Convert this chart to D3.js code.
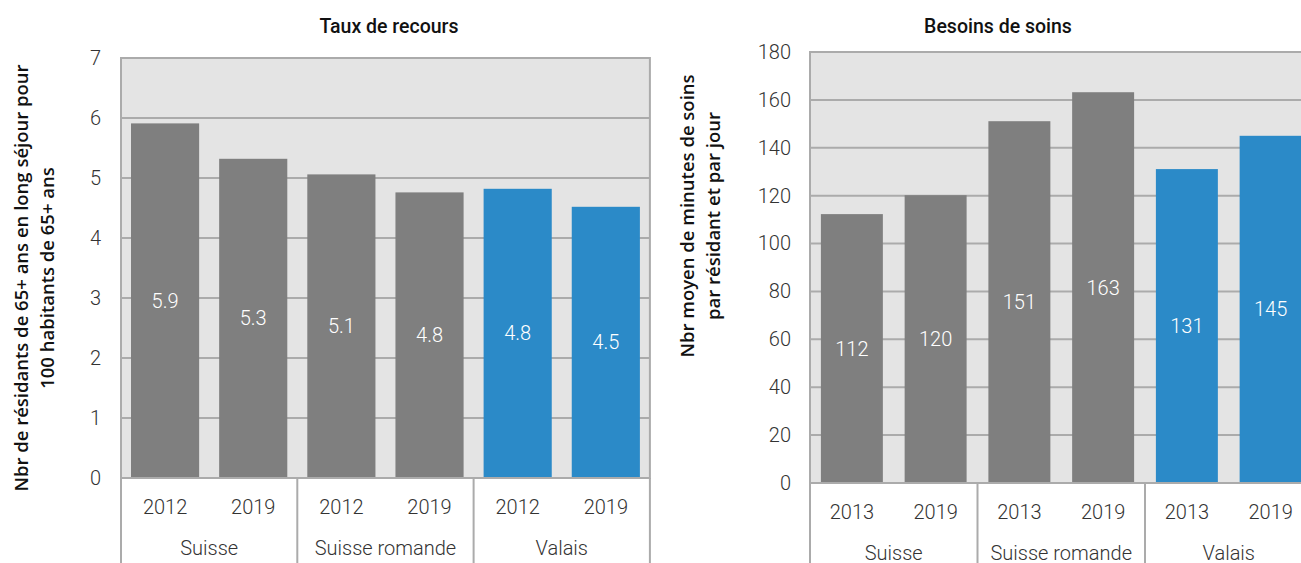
<!DOCTYPE html>
<html>
<head>
<meta charset="utf-8">
<script src="https://cdn.jsdelivr.net/npm/d3@7"></script>
<style>
  body { margin: 0; background: #fff; }
  svg text { font-family: Roboto, sans-serif; }
</style>
</head>
<body>
<div id="chart"></div>
<script>
// data
var regions = ["Suisse", "Suisse romande", "Valais"];
var yearsRecours = ["2012", "2019"];
var yearsSoins = ["2013", "2019"];
var tauxRecours = [5.91, 5.32, 5.06, 4.76, 4.82, 4.52];
var besoinsSoins = [112.3, 120.2, 151.1, 163.2, 131.1, 145.0];
var barColors = ["#7f7f7f", "#7f7f7f", "#7f7f7f", "#7f7f7f", "#2b8ac8", "#2b8ac8"];

var width = 1301,
    height = 563;

var svg = d3.select("#chart").append("svg")
    .attr("width", width)
    .attr("height", height);

function drawPanel(opt) {
    var g = svg.append("g");
    var plotW = opt.catW * regions.length;

    var x0 = d3.scaleBand()
        .domain(regions)
        .range([opt.left, opt.left + plotW]);

    var bars = [];
    regions.forEach(function(r, i) {
        opt.years.forEach(function(yr, j) {
            bars.push({ region: r, year: yr, key: r + "|" + yr, value: opt.values[i * 2 + j], color: barColors[i * 2 + j] });
        });
    });

    var x1 = d3.scaleBand()
        .domain(bars.map(function(d) { return d.key; }))
        .range([opt.left, opt.left + plotW])
        .paddingInner(opt.pad)
        .paddingOuter(opt.pad / 2);

    var y = d3.scaleLinear()
        .domain([0, opt.max])
        .range([opt.bottom, opt.top]);

    // plot background
    g.append("rect")
        .attr("x", opt.left)
        .attr("y", opt.top)
        .attr("width", plotW)
        .attr("height", opt.bottom - opt.top)
        .attr("fill", "#e4e4e4")
        .attr("stroke", "#ababab")
        .attr("stroke-width", 2);

    // grid lines
    g.selectAll(".grid")
        .data(y.ticks(opt.tickCount))
        .enter()
        .append("line")
        .attr("x1", opt.left)
        .attr("x2", opt.left + plotW)
        .attr("y1", function(d) { return y(d); })
        .attr("y2", function(d) { return y(d); })
        .attr("stroke", "#ababab")
        .attr("stroke-width", 2);

    // y tick labels
    var yAxis = g.append("g")
        .attr("transform", "translate(" + opt.tickX + ",0)")
        .call(d3.axisLeft(y).ticks(opt.tickCount).tickSize(0).tickPadding(0));
    yAxis.select(".domain").remove();
    yAxis.selectAll("text")
        .attr("font-size", 20)
        .attr("font-weight", 300)
        .attr("fill", "#333")
        .style("font-family", "Roboto, sans-serif");

    // bars
    g.selectAll(".bar")
        .data(bars)
        .enter()
        .append("rect")
        .attr("x", function(d) { return x1(d.key); })
        .attr("width", x1.bandwidth())
        .attr("y", function(d) { return y(d.value); })
        .attr("height", function(d) { return y(0) - y(d.value); })
        .attr("fill", function(d) { return d.color; });

    // value labels
    g.selectAll(".val")
        .data(bars)
        .enter()
        .append("text")
        .attr("x", function(d) { return x1(d.key) + x1.bandwidth() / 2; })
        .attr("y", function(d) { return (y(d.value) + y(0)) / 2; })
        .attr("dy", "0.35em")
        .attr("text-anchor", "middle")
        .attr("font-size", 20)
        .attr("font-weight", 300)
        .attr("fill", "#fff")
        .text(function(d) { return opt.fmt(d.value); });

    // category axis
    g.append("line")
        .attr("x1", opt.left)
        .attr("x2", opt.left + plotW)
        .attr("y1", opt.bottom)
        .attr("y2", opt.bottom)
        .attr("stroke", "#ababab")
        .attr("stroke-width", 2);

    var dividers = regions.map(function(r) { return x0(r); }).concat([opt.left + plotW]);
    g.selectAll(".div")
        .data(dividers)
        .enter()
        .append("line")
        .attr("x1", function(d) { return d; })
        .attr("x2", function(d) { return d; })
        .attr("y1", opt.bottom)
        .attr("y2", height)
        .attr("stroke", "#ababab")
        .attr("stroke-width", 2);

    g.selectAll(".year")
        .data(bars)
        .enter()
        .append("text")
        .attr("x", function(d) { return x1(d.key) + x1.bandwidth() / 2; })
        .attr("y", opt.bottom + 36)
        .attr("text-anchor", "middle")
        .attr("font-size", 20)
        .attr("font-weight", 300)
        .attr("fill", "#333")
        .text(function(d) { return d.year; });

    g.selectAll(".region")
        .data(regions)
        .enter()
        .append("text")
        .attr("x", function(d) { return x0(d) + x0.bandwidth() / 2; })
        .attr("y", opt.bottom + 77)
        .attr("text-anchor", "middle")
        .attr("font-size", 20)
        .attr("font-weight", 300)
        .attr("fill", "#333")
        .text(function(d) { return d; });

    // title
    g.append("text")
        .attr("x", opt.titleX)
        .attr("y", 33)
        .attr("text-anchor", "middle")
        .attr("font-size", 19.5)
        .attr("font-weight", 500)
        .attr("fill", "#111")
        .text(opt.title);

    // y axis title
    var yt = g.append("text")
        .attr("transform", "translate(" + opt.ytX + "," + opt.ytY + ") rotate(-90)")
        .attr("text-anchor", "middle")
        .attr("font-size", 18.5)
        .attr("font-weight", 600)
        .attr("fill", "#111")
        .style("font-family", "'Open Sans', sans-serif");
    opt.ytLines.forEach(function(l, i) {
        yt.append("tspan")
            .attr("x", 0)
            .attr("dy", i == 0 ? 0 : 26)
            .text(l);
    });
}

drawPanel({
    left: 121, top: 58, bottom: 478, catW: 176.3, pad: 0.227,
    max: 7, tickCount: 7, tickX: 101,
    values: tauxRecours, years: yearsRecours,
    fmt: d3.format(".1f"),
    title: "Taux de recours", titleX: 389,
    ytX: 28, ytY: 278,
    ytLines: ["Nbr de résidants de 65+ ans en long séjour pour", "100 habitants de 65+ ans"]
});

drawPanel({
    left: 810, top: 52, bottom: 483, catW: 167.5, pad: 0.26,
    max: 180, tickCount: 9, tickX: 791,
    values: besoinsSoins, years: yearsSoins,
    fmt: d3.format(".0f"),
    title: "Besoins de soins", titleX: 998,
    ytX: 694, ytY: 216,
    ytLines: ["Nbr moyen de minutes de soins", "par résidant et par jour"]
});
</script>
</body>
</html>
